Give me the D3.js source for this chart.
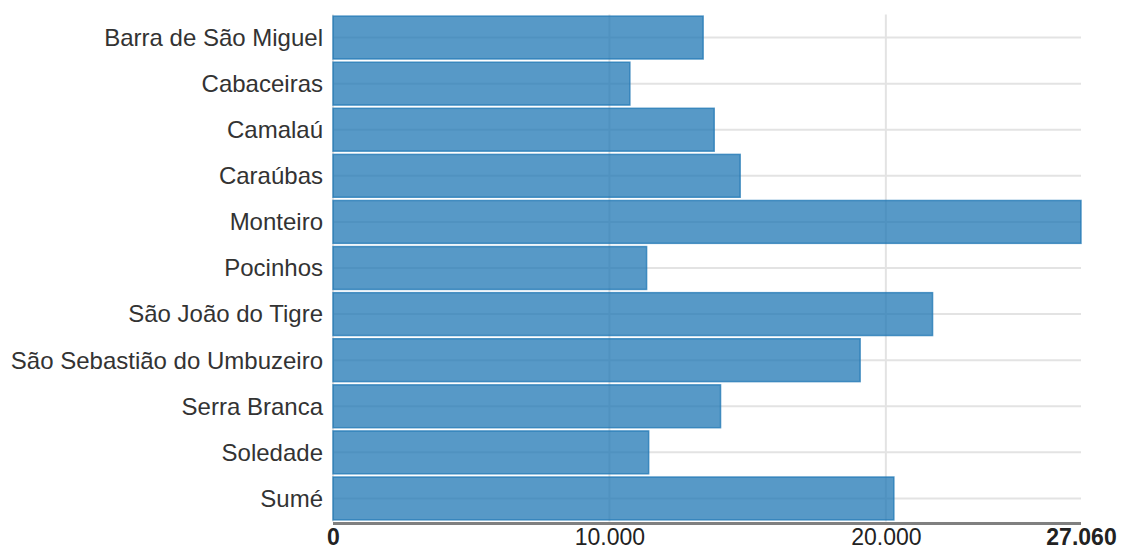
<!DOCTYPE html>
<html>
<head>
<meta charset="utf-8">
<script src="https://cdn.jsdelivr.net/npm/d3@7"></script>
<style>
  html, body { margin: 0; padding: 0; background: #fff; }
  svg { display: block; }
  text { font-family: "Liberation Sans", Arial, sans-serif; fill: #333; }
</style>
</head>
<body>
<svg id="chart" width="1121" height="549"></svg>
<script>
const categories = ["Barra de São Miguel", "Cabaceiras", "Camalaú", "Caraúbas", "Monteiro", "Pocinhos",
  "São João do Tigre", "São Sebastião do Umbuzeiro", "Serra Branca", "Soledade", "Sumé"];
const values = [13390, 10740, 13790, 14730, 27060, 11345, 21690, 19070, 14020, 11420, 20290];
const tickValues = [0, 10000, 20000, 27060];
const tickLabels = ["0", "10.000", "20.000", "27.060"];
const maxValue = 27060;

(function () {
const svg = d3.select("#chart");
const mLeft = 333, mRight = 1081, mTop = 14.5, mBottom = 521.5;

const x = d3.scaleLinear().domain([0, maxValue]).range([mLeft, mRight]);
const y = d3.scaleBand().domain(categories).range([mTop, mBottom]).paddingInner(0.07).paddingOuter(0.035);

// gridlines
const grid = svg.append("g");
grid.selectAll("line.v").data(tickValues.slice(0, 3)).join("line")
  .attr("class", "v")
  .attr("x1", d => x(d)).attr("x2", d => x(d))
  .attr("y1", mTop).attr("y2", mBottom)
  .attr("stroke", "#e3e3e3").attr("stroke-width", 2);
grid.selectAll("line.h").data(categories).join("line")
  .attr("class", "h")
  .attr("x1", mLeft).attr("x2", mRight)
  .attr("y1", d => y(d) + y.bandwidth() / 2).attr("y2", d => y(d) + y.bandwidth() / 2)
  .attr("stroke", "#e3e3e3").attr("stroke-width", 2);

// bars
svg.append("g").selectAll("rect").data(categories).join("rect")
  .attr("x", x(0))
  .attr("y", d => y(d))
  .attr("width", (d, i) => x(values[i]) - x(0))
  .attr("height", y.bandwidth())
  .attr("fill", "#1f77b4").attr("fill-opacity", 0.75)
  .attr("stroke", "#1f77b4").attr("stroke-opacity", 0.75).attr("stroke-width", 1.5);

// category labels
svg.append("g").selectAll("text").data(categories).join("text")
  .attr("x", mLeft - 10)
  .attr("y", d => y(d) + y.bandwidth() / 2)
  .attr("dy", "0.35em")
  .attr("text-anchor", "end")
  .style("font-size", "24px")
  .text(d => d);

// x axis
const xAxis = d3.axisBottom(x).tickValues(tickValues).tickFormat((d, i) => tickLabels[i]).tickSize(0).tickPadding(0);
const ax = svg.append("g").attr("transform", `translate(0, ${mBottom + 2})`).call(xAxis);
ax.select(".domain").attr("stroke", "#808080").attr("stroke-width", 3).attr("d", `M${mLeft},0H${mRight}`);
ax.selectAll(".tick text")
  .attr("y", 21)
  .attr("dy", 0)
  .style("font-size", "23px")
  .style("font-family", "'Liberation Sans', Arial, sans-serif")
  .style("fill", "#222")
  .style("font-weight", (d, i) => (i === 0 || i === tickValues.length - 1) ? "bold" : "normal");
})();
</script>
</body>
</html>
